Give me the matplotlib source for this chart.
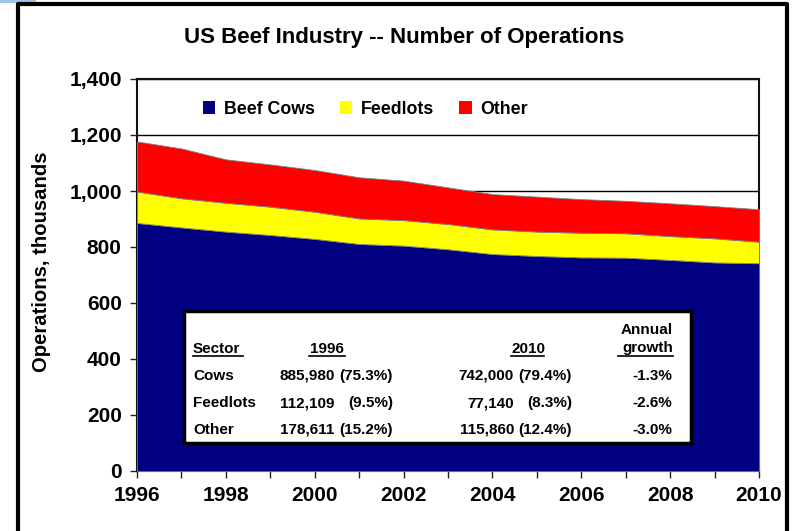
import matplotlib
matplotlib.use("Agg")
import matplotlib.pyplot as plt
from matplotlib.lines import Line2D
from matplotlib.patches import Rectangle

plt.rcParams['font.family'] = ['Liberation Sans', 'DejaVu Sans']

years = list(range(1996, 2011))
beef_cows = [886, 870, 855, 843, 829, 811, 805, 792, 775, 768, 763, 762, 754, 745, 742]
feedlots = [112, 104, 103, 101, 97, 91, 91, 90, 88, 87, 88, 87, 85, 86, 77]
other = [179, 178, 155, 151, 149, 147, 141, 131, 126, 125, 120, 116, 117, 115, 116]
series_names = ["Beef Cows", "Feedlots", "Other"]
series_colors = ["#000080", "#FFFF00", "#FF0000"]

yticks = [0, 200, 400, 600, 800, 1000, 1200, 1400]
xtick_labels = [1996, 1998, 2000, 2002, 2004, 2006, 2008, 2010]

table_header = ["Sector", "1996", "2010", "Annual\ngrowth"]
table_sectors = ["Cows", "Feedlots", "Other"]
table_1996_num = ["885,980", "112,109", "178,611"]
table_1996_pct = ["(75.3%)", "(9.5%)", "(15.2%)"]
table_2010_num = ["742,000", "77,140", "115,860"]
table_2010_pct = ["(79.4%)", "(8.3%)", "(12.4%)"]
table_growth = ["-1.3%", "-2.6%", "-3.0%"]

W, H = 796, 531
fig = plt.figure(figsize=(W / 100, H / 100), dpi=100)
fig.patch.set_facecolor("white")

def fx(px):
    return px / W

def fy(py):
    return 1 - py / H

ax = fig.add_axes([fx(137), fy(471), fx(759) - fx(137), fy(79) - fy(471)])
ax.stackplot(years, beef_cows, feedlots, other, colors=series_colors,
             linewidth=0.6, edgecolor="#808080", zorder=3)
ax.set_xlim(1996, 2010)
ax.set_ylim(0, 1400)
ax.set_yticks(yticks)
ax.set_yticklabels([f"{v:,}" for v in yticks])
ax.set_xticks(years, minor=False)
ax.set_xticklabels([str(y) if y in xtick_labels else "" for y in years])
for lab in ax.get_xticklabels() + ax.get_yticklabels():
    lab.set_fontweight("bold")
    lab.set_fontsize(15)
ax.tick_params(axis="both", direction="out", length=5, width=1, color="#222222", pad=6)
ax.yaxis.grid(True, color="black", linewidth=1, zorder=1)
ax.set_axisbelow(True)
for s in ax.spines.values():
    s.set_color("#111111")
    s.set_linewidth(1.5)

fig.text(fx(42), fy(262), "Operations, thousands", rotation=90, ha="center", va="center",
         fontsize=14.6, fontweight="bold")

handles = [Rectangle((0, 0), 1, 1, facecolor=c, edgecolor="none") for c in series_colors]
leg = ax.legend(handles, series_names, loc="upper left", bbox_to_anchor=(0.08, 0.985),
                ncol=3, frameon=False, prop={"weight": "bold", "size": 12.8},
                handlelength=0.7, handleheight=0.7, handletextpad=0.5, columnspacing=1.4)

fig.text(fx(404), fy(38), "US Beef Industry -- Number of Operations", ha="center", va="center",
         fontsize=16, fontweight="bold")

# outer frame
fig.add_artist(Line2D([fx(18), fx(18), fx(787), fx(787)], [0, fy(4), fy(4), 0],
                      color="black", linewidth=3, transform=fig.transFigure))
fig.add_artist(Rectangle((0, fy(3)), fx(36), fy(0) - fy(3), facecolor="#9DC3E6",
                         edgecolor="none", transform=fig.transFigure))

# table box
fig.add_artist(Rectangle((fx(184), fy(443)), fx(691) - fx(184), fy(311) - fy(443),
                         facecolor="white", edgecolor="black", linewidth=2.5,
                         transform=fig.transFigure, zorder=5))
tk = dict(fontsize=11, fontweight="bold", va="center", zorder=6)
fig.text(fx(193), fy(349), table_header[0], ha="left", **tk)
fig.text(fx(327), fy(349), table_header[1], ha="center", **tk)
fig.text(fx(528), fy(349), table_header[2], ha="center", **tk)
fig.text(fx(673), fy(339), table_header[3], ha="right", linespacing=1.3, **tk)
for x0, x1 in [(193, 243), (309, 345), (511, 544), (618, 673)]:
    fig.add_artist(Line2D([fx(x0), fx(x1)], [fy(356), fy(356)], color="black",
                          linewidth=1.2, transform=fig.transFigure, zorder=6))
row_y = [376, 403, 430]
for i, yy in enumerate(row_y):
    fig.text(fx(193), fy(yy), table_sectors[i], ha="left", **tk)
    fig.text(fx(280), fy(yy), table_1996_num[i], ha="left", **tk)
    fig.text(fx(393), fy(yy), table_1996_pct[i], ha="right", **tk)
    fig.text(fx(514), fy(yy), table_2010_num[i], ha="right", **tk)
    fig.text(fx(572), fy(yy), table_2010_pct[i], ha="right", **tk)
    fig.text(fx(672), fy(yy), table_growth[i], ha="right", **tk)

fig.savefig("out.png", dpi=100)
